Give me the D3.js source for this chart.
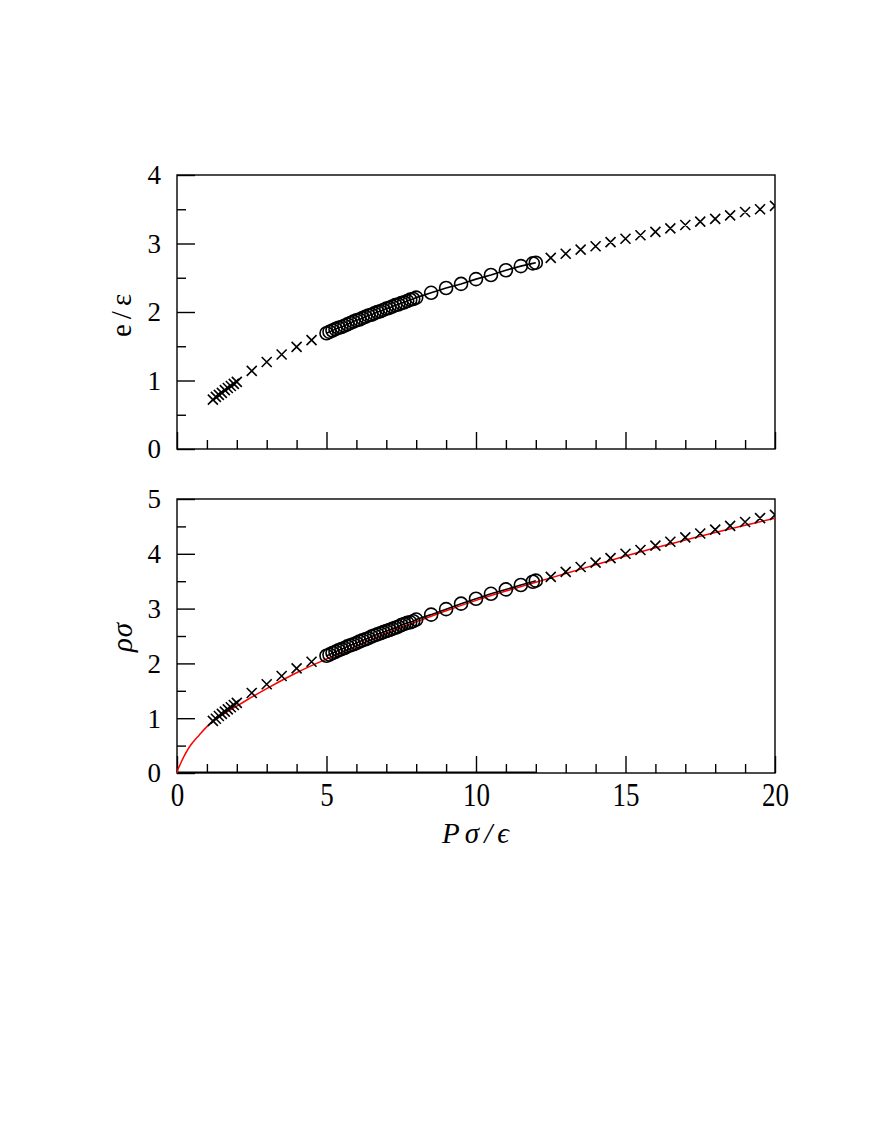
<!DOCTYPE html>
<html>
<head>
<meta charset="utf-8">
<script src="https://cdn.jsdelivr.net/npm/d3@7"></script>
<style>
  html, body { margin: 0; padding: 0; background: #fff; }
  svg { display: block; }
  text { font-family: "Liberation Serif", "DejaVu Serif", serif; fill: #000; }
</style>
</head>
<body>
<script>
// ---------- data ----------
const crossLowP   = [1.2, 1.3, 1.4, 1.5, 1.6, 1.7, 1.8, 1.9, 2.0, 2.5, 3.0, 3.5, 4.0, 4.5];
const crossLowE   = [0.72, 0.76, 0.79, 0.82, 0.86, 0.89, 0.92, 0.95, 0.98, 1.14, 1.27, 1.38, 1.49, 1.59];
const crossLowRho = [0.95, 0.99, 1.04, 1.08, 1.12, 1.16, 1.20, 1.24, 1.28, 1.46, 1.62, 1.77, 1.91, 2.03];

const circleP   = [5.0, 5.1, 5.2, 5.3, 5.4, 5.5, 5.6, 5.7, 5.8, 5.9, 6.0, 6.1, 6.2, 6.3, 6.4, 6.5,
                   6.6, 6.7, 6.8, 6.9, 7.0, 7.1, 7.2, 7.3, 7.4, 7.5, 7.6, 7.7, 7.8, 7.9, 8.0,
                   8.5, 9.0, 9.5, 10.0, 10.5, 11.0, 11.5, 11.9, 12.0];
const circleE   = [1.69, 1.71, 1.73, 1.75, 1.77, 1.78, 1.80, 1.82, 1.84, 1.86, 1.88, 1.89, 1.91, 1.93, 1.95, 1.96,
                   1.98, 2.00, 2.01, 2.03, 2.05, 2.06, 2.08, 2.10, 2.11, 2.13, 2.14, 2.16, 2.18, 2.19, 2.21,
                   2.28, 2.35, 2.41, 2.48, 2.54, 2.61, 2.67, 2.71, 2.72];
const circleRho = [2.14, 2.16, 2.19, 2.21, 2.24, 2.26, 2.28, 2.31, 2.33, 2.35, 2.37, 2.40, 2.42, 2.44, 2.46, 2.49,
                   2.51, 2.53, 2.55, 2.57, 2.59, 2.61, 2.63, 2.65, 2.67, 2.70, 2.72, 2.74, 2.75, 2.77, 2.80,
                   2.89, 2.99, 3.09, 3.18, 3.27, 3.35, 3.43, 3.49, 3.51];

const crossHighP   = [12.5, 13.0, 13.5, 14.0, 14.5, 15.0, 15.5, 16.0, 16.5, 17.0, 17.5, 18.0, 18.5, 19.0, 19.5, 20.0];
const crossHighE   = [2.79, 2.85, 2.91, 2.96, 3.02, 3.07, 3.12, 3.17, 3.22, 3.27, 3.32, 3.36, 3.41, 3.46, 3.50, 3.55];
const crossHighRho = [3.58, 3.67, 3.76, 3.84, 3.92, 4.00, 4.07, 4.15, 4.22, 4.30, 4.37, 4.44, 4.51, 4.58, 4.65, 4.71];

// red curve (bottom panel)
const fitP   = [0, 0.02, 0.05, 0.1, 0.23, 0.46, 0.74, 1.01, 1.35, 2.24, 3.0, 4.0, 5, 6, 7, 8, 9, 10, 11, 12, 13, 14, 15, 16, 17, 18, 19, 20];
const fitRho = [0, 0.05, 0.09, 0.15, 0.30, 0.51, 0.69, 0.85, 1.00, 1.30, 1.54, 1.83, 2.08, 2.32, 2.55, 2.76, 2.96, 3.15, 3.32, 3.48, 3.64, 3.80, 3.96, 4.11, 4.25, 4.39, 4.52, 4.65];

// zero line (bottom panel)
const zeroP   = [0, 12];
const zeroRho = [0, 0];

// axes
const xDomain = [0, 20];
const xMajorTicks = [0, 5, 10, 15, 20];
const xMinorTicks = [1, 2, 3, 4, 6, 7, 8, 9, 11, 12, 13, 14, 16, 17, 18, 19];
const eDomain = [0, 4];
const eMajorTicks = [0, 1, 2, 3, 4];
const eMinorTicks = [0.5, 1.5, 2.5, 3.5];
const rhoDomain = [0, 5];
const rhoMajorTicks = [0, 1, 2, 3, 4, 5];
const rhoMinorTicks = [0.5, 1.5, 2.5, 3.5, 4.5];

// ---------- layout ----------
const W = 872, H = 1128;
const L = 177, R = 775;
const topPanel = { t: 175, b: 449 };
const botPanel = { t: 499, b: 773 };

const svg = d3.select("body").append("svg").attr("width", W).attr("height", H);

const x = d3.scaleLinear().domain(xDomain).range([L, R]);
const yE = d3.scaleLinear().domain(eDomain).range([topPanel.b, topPanel.t]);
const yR = d3.scaleLinear().domain(rhoDomain).range([botPanel.b, botPanel.t]);

const defs = svg.append("defs");
defs.append("clipPath").attr("id", "clipTop").append("rect")
  .attr("x", L).attr("y", topPanel.t).attr("width", R - L).attr("height", topPanel.b - topPanel.t);
defs.append("clipPath").attr("id", "clipBot").append("rect")
  .attr("x", L).attr("y", botPanel.t).attr("width", R - L).attr("height", botPanel.b - botPanel.t);

const SW = 1.4;
const MW = 1.6;

function drawAxes(y, panel, majorY, minorY, showXLabels) {
  const gy = svg.append("g").attr("transform", `translate(${L},0)`)
    .call(d3.axisLeft(y).tickValues(majorY).tickSize(-18).tickPadding(16).tickFormat(d3.format("d")));
  gy.select(".domain").remove();
  gy.selectAll("line").attr("stroke", "#000").attr("stroke-width", SW);
  gy.selectAll("text").style("font-size", "27px").attr("dy", "0.33em");
  const gym = svg.append("g").attr("transform", `translate(${L},0)`)
    .call(d3.axisLeft(y).tickValues(minorY).tickSize(-9).tickFormat(""));
  gym.select(".domain").remove();
  gym.selectAll("line").attr("stroke", "#000").attr("stroke-width", SW);

  const gx = svg.append("g").attr("transform", `translate(0,${panel.b})`)
    .call(d3.axisBottom(x).tickValues(xMajorTicks).tickSize(-17).tickFormat(showXLabels ? d3.format("d") : ""));
  gx.select(".domain").remove();
  gx.selectAll("line").attr("stroke", "#000").attr("stroke-width", SW);
  if (showXLabels) {
    gx.selectAll("text")
      .style("font-size", "27px")
      .attr("y", 0).attr("dy", "0.33em")
      .attr("transform", "translate(0,22) scale(1,1.22)");
  }
  const gxm = svg.append("g").attr("transform", `translate(0,${panel.b})`)
    .call(d3.axisBottom(x).tickValues(xMinorTicks).tickSize(-9).tickFormat(""));
  gxm.select(".domain").remove();
  gxm.selectAll("line").attr("stroke", "#000").attr("stroke-width", SW);

  svg.append("rect").attr("x", L).attr("y", panel.t)
    .attr("width", R - L).attr("height", panel.b - panel.t)
    .attr("fill", "none").attr("stroke", "#000").attr("stroke-width", SW);
}

function zip(a, b) { return a.map((v, i) => [v, b[i]]); }

function crosses(g, pts, y, s) {
  const path = pts.map(([px, py]) => {
    const cx = x(px), cy = y(py);
    return `M${cx - s},${cy - s}L${cx + s},${cy + s}M${cx - s},${cy + s}L${cx + s},${cy - s}`;
  }).join("");
  g.append("path").attr("d", path).attr("fill", "none").attr("stroke", "#000").attr("stroke-width", MW);
}

function circles(g, pts, y, r) {
  g.selectAll(null).data(pts).enter().append("circle")
    .attr("cx", d => x(d[0])).attr("cy", d => y(d[1])).attr("r", r)
    .attr("fill", "none").attr("stroke", "#000").attr("stroke-width", MW);
}

// ---------- top panel ----------
drawAxes(yE, topPanel, eMajorTicks, eMinorTicks, false);
const gTop = svg.append("g").attr("clip-path", "url(#clipTop)");
const lineE = d3.line().x(d => x(d[0])).y(d => yE(d[1]));
gTop.append("path").attr("d", lineE(zip(circleP, circleE)))
  .attr("fill", "none").attr("stroke", "#000").attr("stroke-width", MW);
crosses(gTop, zip(crossLowP, crossLowE), yE, 5);
circles(gTop, zip(circleP, circleE), yE, 6.5);
crosses(gTop, zip(crossHighP, crossHighE), yE, 5);

// ---------- bottom panel ----------
drawAxes(yR, botPanel, rhoMajorTicks, rhoMinorTicks, true);
const gBot = svg.append("g").attr("clip-path", "url(#clipBot)");
const lineR = d3.line().x(d => x(d[0])).y(d => yR(d[1]));
gBot.append("path").attr("d", lineR(zip(zeroP, zeroRho)))
  .attr("fill", "none").attr("stroke", "#000").attr("stroke-width", 2.8);
gBot.append("path").attr("d", lineR(zip(circleP, circleRho)))
  .attr("fill", "none").attr("stroke", "#000").attr("stroke-width", MW);
gBot.append("path")
  .attr("d", d3.line().curve(d3.curveCatmullRom).x(d => x(d[0])).y(d => yR(d[1]))(zip(fitP, fitRho)))
  .attr("fill", "none").attr("stroke", "#ff0000").attr("stroke-width", 1.5);
crosses(gBot, zip(crossLowP, crossLowRho), yR, 5);
circles(gBot, zip(circleP, circleRho), yR, 6.5);
crosses(gBot, zip(crossHighP, crossHighRho), yR, 5);

// ---------- axis titles ----------
svg.append("text").attr("transform", "translate(131,313) rotate(-90)")
  .attr("text-anchor", "middle").style("font-size", "29px").style("letter-spacing", "5px").text("e/ε");
svg.append("text").attr("transform", "translate(132,637) rotate(-90)")
  .attr("text-anchor", "middle").style("font-size", "29px").style("font-style", "italic").style("letter-spacing", "1px").text("ρσ");
svg.append("text").attr("x", 478).attr("y", 843)
  .attr("text-anchor", "middle").style("font-size", "29px").style("font-style", "italic").style("letter-spacing", "5px").text("Pσ/ϵ");
</script>
</body>
</html>
